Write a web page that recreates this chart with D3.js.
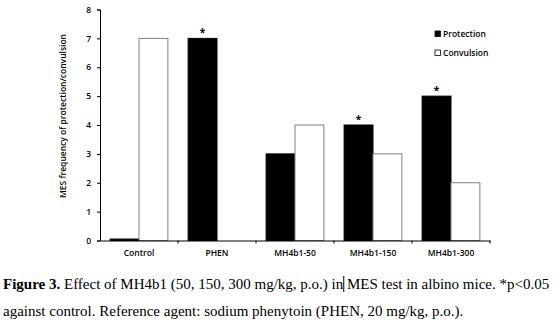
<!DOCTYPE html>
<html>
<head>
<meta charset="utf-8">
<script src="https://cdn.jsdelivr.net/npm/d3@7"></script>
<style>
  body { margin: 0; background: #fff; }
  svg { display: block; }
  .tick text { font-family: 'Open Sans', sans-serif; font-weight: 600; }
</style>
</head>
<body>
<div id="chart"></div>
<script>
// values
const groups = ['Control', 'PHEN', 'MH4b1-50', 'MH4b1-150', 'MH4b1-300']
const protection = [0.05, 7, 3, 4, 5]
const convulsion = [7, 0, 4, 3, 2]
const significant = ['PHEN', 'MH4b1-150', 'MH4b1-300']
const yTicks = [0, 1, 2, 3, 4, 5, 6, 7, 8]
const series = [
  { key: 'Protection', values: protection, fill: '#000', stroke: '#000' },
  { key: 'Convulsion', values: convulsion, fill: '#fff', stroke: '#808080' },
]

const W = 557, H = 323
const svg = d3.select('#chart').append('svg')
  .attr('width', W)
  .attr('height', H)

const x = d3.scaleBand().domain(groups).range([100, 490])
const x1 = d3.scaleBand().domain(series.map(s => s.key))
  .range([0, x.bandwidth()])
  .paddingOuter(0.35)
const y = d3.scaleLinear().domain([0, 8]).range([240.5, 9.5])

const font = "'Open Sans', sans-serif"

// bars
series.forEach(s => {
  svg.append('g')
    .selectAll('rect')
    .data(groups.map((g, i) => ({ g, v: s.values[i] })).filter(d => d.v > 0))
    .join('rect')
      .attr('x', d => x(d.g) + x1(s.key))
      .attr('y', d => y(d.v))
      .attr('width', x1.bandwidth())
      .attr('height', d => y(0) - y(d.v))
      .attr('fill', s.fill)
      .attr('stroke', s.stroke)
      .attr('stroke-width', 1)
})

// significance stars
svg.append('g')
  .selectAll('text')
  .data(significant)
  .join('text')
    .attr('x', g => x(g) + x1('Protection') + x1.bandwidth() / 2)
    .attr('y', g => y(protection[groups.indexOf(g)]) - 2)
    .attr('text-anchor', 'middle')
    .attr('font-family', font)
    .attr('font-size', 10)
    .attr('font-weight', 700)
    .text('*')

// axes
const yAxis = svg.append('g')
  .attr('transform', 'translate(100,0)')
  .call(d3.axisLeft(y).tickValues(yTicks).tickSize(3).tickPadding(6))
yAxis.selectAll('text').attr('font-size', 8.5).attr('font-family', font).attr('fill', '#000')

const xAxis = svg.append('g')
  .attr('transform', `translate(0,${y(0)})`)
  .call(d3.axisBottom(x).tickSize(0).tickPadding(9))
xAxis.selectAll('text').attr('font-size', 8.5).attr('font-family', font).attr('fill', '#000')
// tick marks sit between categories
xAxis.selectAll('.sep')
  .data(groups)
  .join('line')
    .attr('class', 'sep')
    .attr('x1', g => x(g) + x.bandwidth())
    .attr('x2', g => x(g) + x.bandwidth())
    .attr('y1', 0)
    .attr('y2', 3)
    .attr('stroke', '#000')
svg.selectAll('.domain').attr('stroke', '#000')

svg.append('text')
  .attr('transform', `translate(66,116) rotate(-90)`)
  .attr('text-anchor', 'middle')
  .attr('font-family', font)
  .attr('font-size', 8.5)
  .attr('font-weight', 600)
  .text('MES frequency of protection/convulsion')

// legend
const legend = svg.append('g')
  .selectAll('g')
  .data(series)
  .join('g')
    .attr('transform', (d, i) => `translate(435,${31 + i * 19})`)
legend.append('rect')
  .attr('width', 5.5)
  .attr('height', 5.5)
  .attr('fill', d => d.fill)
  .attr('stroke', '#000')
  .attr('stroke-width', 0.8)
legend.append('text')
  .attr('x', 8)
  .attr('y', 5.5)
  .attr('font-family', font)
  .attr('font-size', 8.5)
  .attr('font-weight', 600)
  .text(d => d.key)

// caption
const cap = svg.append('g')
  .attr('font-family', "'Liberation Serif', serif")
  .attr('font-size', 15)
const l1 = cap.append('text').attr('x', 3).attr('y', 289)
l1.append('tspan').attr('font-weight', 700).text('Figure 3.')
l1.append('tspan').text(' Effect of MH4b1 (50, 150, 300 mg/kg, p.o.) in')
const cursorX = l1.node().getComputedTextLength() + 3
l1.append('tspan').text(' MES test in albino mice. *p<0.05')
cap.append('text').attr('x', 3).attr('y', 316)
  .text('against control. Reference agent: sodium phenytoin (PHEN, 20 mg/kg, p.o.).')
// the text cursor visible in the source image
cap.append('line')
  .attr('x1', cursorX + 0.5).attr('x2', cursorX + 0.5)
  .attr('y1', 276).attr('y2', 292)
  .attr('stroke', '#000')
  .attr('stroke-width', 1)
</script>
</body>
</html>
